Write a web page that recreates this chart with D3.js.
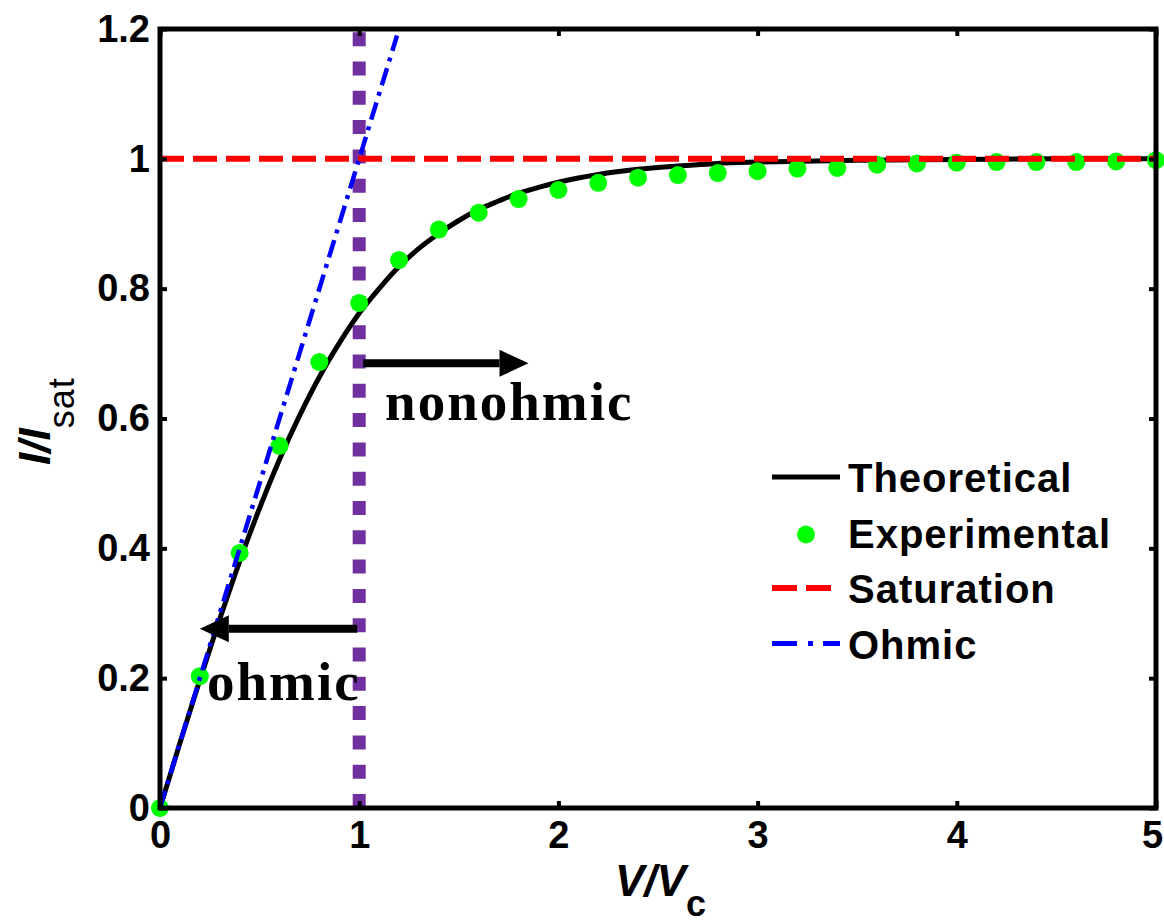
<!DOCTYPE html>
<html>
<head>
<meta charset="utf-8">
<script src="https://cdn.jsdelivr.net/npm/d3@7"></script>
<style>
  html, body { margin: 0; padding: 0; background: #fff; }
  svg { display: block; }
  text { font-family: "Liberation Sans", Arial, sans-serif; fill: #000; }
</style>
</head>
<body>
<svg id="chart" width="1164" height="924"></svg>
<script>
// Normalised current vs normalised voltage

// Theoretical curve (V/Vc, I/Isat)
const theoryV = [0, 0.1, 0.2, 0.3, 0.4, 0.5, 0.6, 0.7, 0.8, 0.9, 1.0, 1.1, 1.2, 1.3, 1.4, 1.5, 1.6, 1.7, 1.8, 1.9, 2.0, 2.2, 2.4, 2.6, 2.8, 3.0, 3.5, 4.0, 4.5, 5.0];
const theoryI = [0, 0.100, 0.197, 0.291, 0.380, 0.462, 0.537, 0.604, 0.664, 0.716, 0.762, 0.800, 0.834, 0.862, 0.885, 0.905, 0.922, 0.935, 0.947, 0.956, 0.964, 0.976, 0.984, 0.989, 0.993, 0.995, 0.998, 0.999, 1.0, 1.0];

// Experimental points
const expV = [0, 0.2, 0.4, 0.6, 0.8, 1.0, 1.2, 1.4, 1.6, 1.8, 2.0, 2.2, 2.4, 2.6, 2.8, 3.0, 3.2, 3.4, 3.6, 3.8, 4.0, 4.2, 4.4, 4.6, 4.8, 5.0];
const expI = [0, 0.203, 0.393, 0.558, 0.687, 0.778, 0.844, 0.891, 0.917, 0.938, 0.952, 0.963, 0.971, 0.975, 0.978, 0.981, 0.985, 0.986, 0.991, 0.993, 0.994, 0.995, 0.995, 0.995, 0.996, 0.998];

// Saturation level and ohmic (linear) regime
const saturationV = [0, 5];
const saturationI = [1, 1];
const ohmicV = [0, 1.19];
const ohmicI = [0, 1.19];

// Boundary between regimes at V = Vc
const boundaryV = [1, 1];
const boundaryI = [0, 1.2];

// Axis ticks
const xTicks = [0, 1, 2, 3, 4, 5];
const xTickLabels = ["0", "1", "2", "3", "4", "5"];
const yTicks = [0, 0.2, 0.4, 0.6, 0.8, 1.0, 1.2];
const yTickLabels = ["0", "0.2", "0.4", "0.6", "0.8", "1", "1.2"];

// Legend entries
const legendNames = ["Theoretical", "Experimental", "Saturation", "Ohmic"];

// Region annotations (arrow start/end and label anchor, in data units)
const arrowFrom = [[1.02, 0.685], [0.99, 0.276]];
const arrowTo = [[1.85, 0.685], [0.20, 0.276]];
const noteText = ["nonohmic", "ohmic"];
const noteAt = [[1.13, 0.598], [0.236, 0.166]];

const W = 1164, H = 924;
const m = { left: 160, right: 8, top: 29, bottom: 116 };

const svg = d3.select("#chart");
const x = d3.scaleLinear().domain([0, 5]).range([m.left, W - m.right]);
const y = d3.scaleLinear().domain([0, 1.2]).range([H - m.bottom, m.top]);

const zip = (a, b) => a.map((v, i) => [v, b[i]]);
const line = d3.line().x(d => x(d[0])).y(d => y(d[1]));

const plot = svg.append("g");

// V = Vc boundary
plot.append("path")
  .datum(zip(boundaryV, boundaryI))
  .attr("d", line)
  .attr("fill", "none")
  .attr("stroke", "#7030a0")
  .attr("stroke-width", 13)
  .attr("stroke-dasharray", "14,15.3");

// Theoretical curve
plot.append("path")
  .datum(zip(theoryV, theoryI))
  .attr("d", line.curve(d3.curveMonotoneX))
  .attr("fill", "none")
  .attr("stroke", "#000")
  .attr("stroke-width", 5);
line.curve(d3.curveLinear);

// Experimental points
plot.selectAll("circle.exp")
  .data(zip(expV, expI))
  .join("circle")
  .attr("class", "exp")
  .attr("cx", d => x(d[0]))
  .attr("cy", d => y(d[1]))
  .attr("r", 9)
  .attr("fill", "#00ff00");

// Saturation
plot.append("path")
  .datum(zip(saturationV, saturationI))
  .attr("d", line)
  .attr("fill", "none")
  .attr("stroke", "#ff0000")
  .attr("stroke-width", 6)
  .attr("stroke-dasharray", "24,9");

// Ohmic line
plot.append("path")
  .datum(zip(ohmicV, ohmicI))
  .attr("d", line)
  .attr("fill", "none")
  .attr("stroke", "#0000ff")
  .attr("stroke-width", 4.5)
  .attr("stroke-dasharray", "18,7,4,7");

// Axes with inward ticks on all four sides
const tickLen = 7;
function styleAxis(g) {
  g.select(".domain").remove();
  g.selectAll(".tick line").attr("stroke", "#000").attr("stroke-width", 4);
  g.selectAll(".tick text")
    .style("font-family", "'Liberation Sans', Arial, sans-serif")
    .style("font-size", "38px")
    .style("font-weight", "bold")
    .attr("fill", "#000");
}
const xAxisG = svg.append("g")
  .attr("transform", `translate(0,${H - m.bottom})`)
  .call(d3.axisBottom(x).tickValues(xTicks).tickFormat((d, i) => xTickLabels[i])
    .tickSizeInner(-tickLen).tickSizeOuter(0).tickPadding(13))
  .call(styleAxis);
// keep the last label inside the page edge
xAxisG.selectAll(".tick text").filter(d => d === 5).attr("dx", -4);

svg.append("g")
  .attr("transform", `translate(0,${m.top})`)
  .call(d3.axisTop(x).tickValues(xTicks).tickFormat("")
    .tickSizeInner(-tickLen).tickSizeOuter(0))
  .call(styleAxis);
svg.append("g")
  .attr("transform", `translate(${m.left},0)`)
  .call(d3.axisLeft(y).tickValues(yTicks).tickFormat((d, i) => yTickLabels[i])
    .tickSizeInner(-tickLen).tickSizeOuter(0).tickPadding(10))
  .call(styleAxis);
svg.append("g")
  .attr("transform", `translate(${W - m.right},0)`)
  .call(d3.axisRight(y).tickValues(yTicks).tickFormat("")
    .tickSizeInner(-tickLen).tickSizeOuter(0))
  .call(styleAxis);

// Frame
svg.append("rect")
  .attr("x", m.left).attr("y", m.top)
  .attr("width", W - m.left - m.right)
  .attr("height", H - m.top - m.bottom)
  .attr("fill", "none")
  .attr("stroke", "#000")
  .attr("stroke-width", 5);

// Arrows and region labels
const arrows = svg.append("g");
arrowFrom.forEach((p0, i) => {
  const p1 = arrowTo[i];
  const x0 = x(p0[0]), y0 = y(p0[1]), x1 = x(p1[0]), y1 = y(p1[1]);
  const ang = Math.atan2(y1 - y0, x1 - x0);
  const headL = 29, headW = 13.5;
  const bx = x1 - headL * Math.cos(ang), by = y1 - headL * Math.sin(ang);
  arrows.append("line")
    .attr("x1", x0).attr("y1", y0).attr("x2", bx).attr("y2", by)
    .attr("stroke", "#000").attr("stroke-width", 8);
  const nx = -Math.sin(ang), ny = Math.cos(ang);
  arrows.append("path")
    .attr("d", `M${x1},${y1}L${bx + nx * headW},${by + ny * headW}L${bx - nx * headW},${by - ny * headW}Z`)
    .attr("fill", "#000");
});
noteText.forEach((t, i) => {
  svg.append("text")
    .attr("x", x(noteAt[i][0]))
    .attr("y", y(noteAt[i][1]))
    .style("font-family", "'Liberation Serif', 'Times New Roman', serif")
    .style("font-size", "55px")
    .style("font-weight", "bold")
    .style("letter-spacing", "2px")
    .text(t);
});

// Axis titles
const xl = svg.append("text")
  .attr("x", 615).attr("y", 896)
  .style("font-size", "44px").style("font-weight", "bold");
xl.append("tspan").style("font-style", "italic").text("V/V");
xl.append("tspan").attr("dy", 20).style("font-size", "36px").text("c");

const yl = svg.append("text")
  .attr("transform", "translate(50,465) rotate(-90)")
  .style("font-size", "44px").style("font-weight", "bold");
yl.append("tspan").style("font-style", "italic").text("I/I");
yl.append("tspan").attr("dy", 24).style("font-size", "36px").style("font-weight", "normal")
  .style("letter-spacing", "1px").text("sat");

// Legend
const lg = svg.append("g").attr("transform", "translate(772,477)");
const rowH = 55.5;
legendNames.forEach((name, i) => {
  const r = lg.append("g").attr("transform", `translate(0,${i * rowH})`);
  if (i === 0) {
    r.append("line").attr("x1", 0).attr("x2", 68).attr("stroke", "#000").attr("stroke-width", 5);
  } else if (i === 1) {
    r.append("circle").attr("cx", 34).attr("cy", 2).attr("r", 9).attr("fill", "#00ff00");
  } else if (i === 2) {
    r.append("line").attr("x1", 0).attr("x2", 60).attr("stroke", "#ff0000").attr("stroke-width", 6)
      .attr("stroke-dasharray", "25,9");
  } else {
    r.append("line").attr("x1", 0).attr("x2", 68).attr("stroke", "#0000ff").attr("stroke-width", 5)
      .attr("stroke-dasharray", "25,11,5,10");
  }
  r.append("text")
    .attr("x", 76).attr("y", 15)
    .style("font-size", "40px").style("font-weight", "bold")
    .style("letter-spacing", "1px")
    .text(name);
});
</script>
</body>
</html>
